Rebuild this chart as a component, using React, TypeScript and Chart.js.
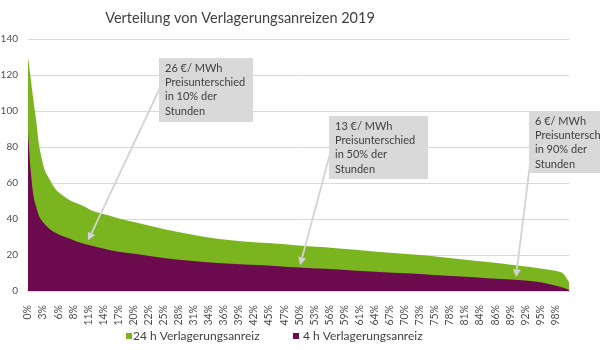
import React, { useEffect, useRef } from "react";
import { Chart, registerables } from "chart.js";

Chart.register(...registerables);

const TITLE = "Verteilung von Verlagerungsanreizen 2019";

// share of hours (%) at which the curves were read
const SHARE = [0, 0.5, 1, 1.5, 2, 2.5, 3, 4, 5, 6, 8, 10, 12, 15, 17, 20, 25, 30, 35, 40, 45, 50, 55, 60, 65, 70, 75, 80, 85, 90, 95, 98, 99, 100];
// 24 h Verlagerungsanreiz (€/MWh)
const INCENTIVE_24H = [130, 118, 106, 95, 82, 74, 68, 62, 57, 54, 50, 47.5, 44.5, 42, 40.2, 38, 34.5, 31.5, 29, 27.5, 26.5, 25.3, 24.3, 23, 21.7, 20.5, 19.3, 17.7, 16.1, 14.3, 12.4, 10.8, 9.5, 5];
// 4 h Verlagerungsanreiz (€/MWh)
const INCENTIVE_4H = [88, 67, 53, 47, 42, 39.3, 37.5, 34.5, 32.5, 31, 28.8, 26.5, 25, 22.8, 21.7, 20.5, 18.4, 16.8, 15.6, 14.7, 14, 13, 12.3, 11.4, 10.6, 9.8, 8.9, 8, 7.1, 6.2, 4.7, 2.6, 1.8, 0.5];

const X_LABELS = ["0%", "3%", "6%", "8%", "11%", "14%", "17%", "20%", "22%", "25%", "28%", "31%", "34%", "36%", "39%", "42%", "45%", "47%", "50%", "53%", "56%", "59%", "61%", "64%", "67%", "70%", "73%", "75%", "78%", "81%", "84%", "86%", "89%", "92%", "95%", "98%"];
const X_LABEL_STEP = (100 * 244) / 8760; // one label every 244 hours of 8760
const Y_MAX = 140;
const Y_STEP = 20;

const SERIES_NAMES = ["24 h Verlagerungsanreiz", "4 h Verlagerungsanreiz"];
const GREEN = "#7ab51f";
const PURPLE = "#6c0a4e";

const NOTE_TEXTS = [
  ["26 €/ MWh", "Preisunterschied", "in 10% der", "Stunden"],
  ["13 €/ MWh", "Preisunterschied", "in 50% der", "Stunden"],
  ["6 €/ MWh", "Preisunterschied", "in 90% der", "Stunden"],
];
// arrow tips in data coordinates (share %, €/MWh)
const NOTE_TARGETS = [
  [11.1, 28],
  [50.3, 14.3],
  [90.2, 7.6],
];

const FONT = "Lato, 'Open Sans', sans-serif";
const TEXT = "#404040";
const AXIS_TEXT = "#505050";
const GRID = "#d9d9d9";

const overlay = {
  id: "overlay",
  afterDraw(chart: any) {
    const ctx = chart.ctx as CanvasRenderingContext2D;
    const xs = chart.scales.x;
    const ys = chart.scales.y;
    ctx.save();

    // title
    ctx.fillStyle = TEXT;
    ctx.font = `14.5px ${FONT}`;
    ctx.textAlign = "center";
    ctx.textBaseline = "middle";
    ctx.fillText(TITLE, 240, 18);

    // annotation boxes with arrows
    const boxes = [
      { x: 159, y: 58, w: 94, h: 64, sx: 160, sy: 88 },
      { x: 329, y: 116, w: 99, h: 63, sx: 331, sy: 150 },
      { x: 529, y: 111, w: 100, h: 62, sx: 534, sy: 132 },
    ];
    boxes.forEach((b, i) => {
      const tx = xs.getPixelForValue(NOTE_TARGETS[i][0]);
      const ty = ys.getPixelForValue(NOTE_TARGETS[i][1]);
      ctx.strokeStyle = "#d3d3d3";
      ctx.fillStyle = "#d3d3d3";
      ctx.lineWidth = 1.8;
      const ang = Math.atan2(ty - b.sy, tx - b.sx);
      const hl = 8;
      const bx = tx - hl * Math.cos(ang);
      const by = ty - hl * Math.sin(ang);
      ctx.beginPath();
      ctx.moveTo(b.sx, b.sy);
      ctx.lineTo(bx, by);
      ctx.stroke();
      ctx.beginPath();
      ctx.moveTo(tx, ty);
      ctx.lineTo(bx + 4 * Math.sin(ang), by - 4 * Math.cos(ang));
      ctx.lineTo(bx - 4 * Math.sin(ang), by + 4 * Math.cos(ang));
      ctx.closePath();
      ctx.fill();

      ctx.fillStyle = "#d9d9d9";
      ctx.fillRect(b.x, b.y, b.w, b.h);
      ctx.fillStyle = TEXT;
      ctx.font = `11px ${FONT}`;
      ctx.textAlign = "left";
      ctx.textBaseline = "middle";
      NOTE_TEXTS[i].forEach((line, j) => {
        ctx.fillText(line, b.x + 6, b.y + 10 + j * 14.4);
      });
    });

    // legend
    ctx.font = `12px ${FONT}`;
    ctx.textBaseline = "middle";
    ctx.textAlign = "left";
    const items = [
      { sq: 126, tx: 133, color: GREEN },
      { sq: 293, tx: 303, color: PURPLE },
    ];
    items.forEach((it, i) => {
      ctx.fillStyle = it.color;
      ctx.fillRect(it.sq, 333, 6, 6);
      ctx.fillStyle = TEXT;
      ctx.fillText(SERIES_NAMES[i], it.tx, 336);
    });
    ctx.restore();
  },
};

export default function App() {
  const ref = useRef<HTMLCanvasElement | null>(null);
  useEffect(() => {
    if (!ref.current) return;
    const chart = new Chart(ref.current, {
      type: "line",
      data: {
        datasets: [
          {
            label: SERIES_NAMES[0],
            data: SHARE.map((x, i) => ({ x, y: INCENTIVE_24H[i] })),
            backgroundColor: GREEN,
            borderColor: GREEN,
            borderWidth: 0,
            pointRadius: 0,
            fill: "origin",
            order: 1,
            cubicInterpolationMode: "monotone",
          },
          {
            label: SERIES_NAMES[1],
            data: SHARE.map((x, i) => ({ x, y: INCENTIVE_4H[i] })),
            backgroundColor: PURPLE,
            borderColor: PURPLE,
            borderWidth: 0,
            pointRadius: 0,
            fill: "origin",
            order: 0,
            cubicInterpolationMode: "monotone",
          },
        ],
      },
      options: {
        animation: false,
        responsive: false,
        layout: { padding: { top: 39, right: 31, bottom: 19, left: 0 } },
        plugins: {
          legend: { display: false },
          title: { display: false },
          tooltip: { enabled: false },
        },
        scales: {
          x: {
            type: "linear",
            min: 0,
            max: 100,
            grid: { display: false },
            border: { display: true, color: GRID, width: 2 },
            afterBuildTicks: (s: any) => {
              s.ticks = X_LABELS.map((_, i) => ({ value: i * X_LABEL_STEP }));
            },
            afterFit: (s: any) => {
              s.height = 40;
            },
            ticks: {
              autoSkip: false,
              minRotation: 90,
              maxRotation: 90,
              padding: 6,
              color: AXIS_TEXT,
              font: { family: FONT, size: 10.5 },
              callback: (_v: any, i: number) => X_LABELS[i],
            },
          },
          y: {
            min: 0,
            max: Y_MAX,
            grid: { color: GRID, drawTicks: false },
            border: { display: false },
            afterFit: (s: any) => {
              s.width = 28;
            },
            ticks: {
              stepSize: Y_STEP,
              padding: 10,
              color: AXIS_TEXT,
              font: { family: FONT, size: 10 },
            },
          },
        },
      },
      plugins: [overlay],
    });
    return () => chart.destroy();
  }, []);
  return (
    <div style={{ position: "absolute", left: 0, top: 0, width: 600, height: 350, background: "#fff" }}>
      <canvas ref={ref} width={600} height={350} />
    </div>
  );
}
